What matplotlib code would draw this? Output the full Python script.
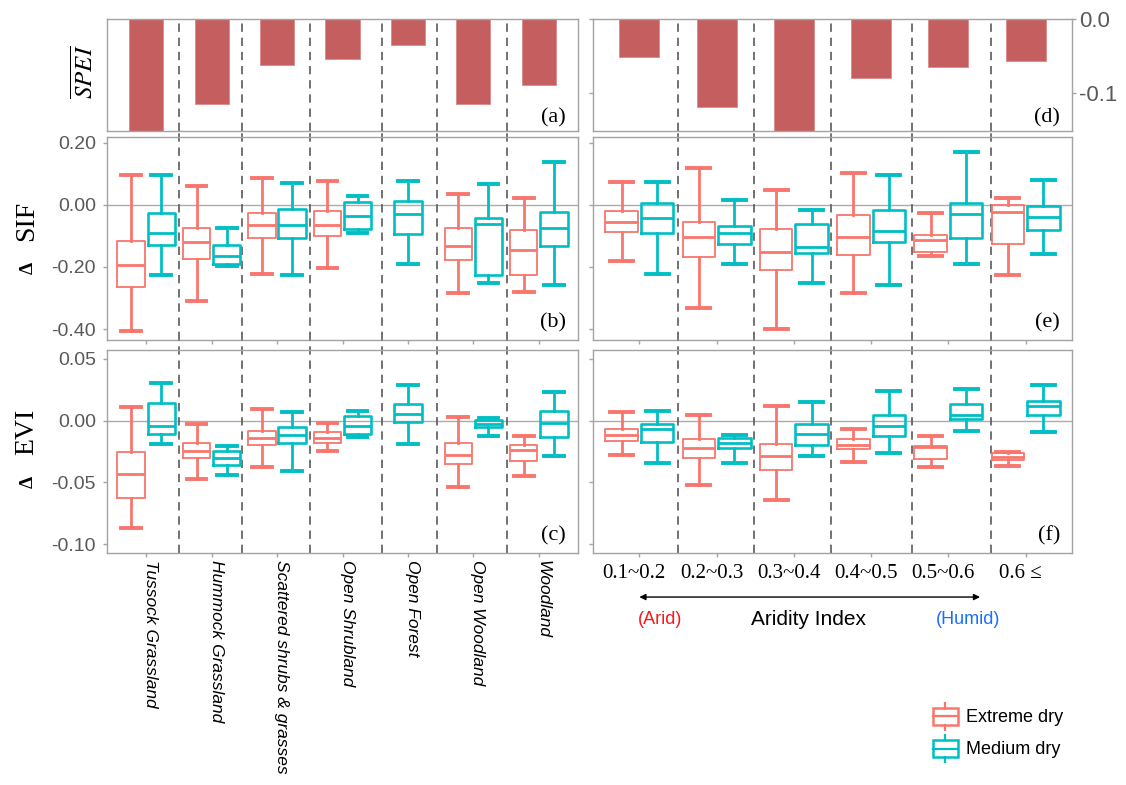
"""SPEI bars and dSIF / dEVI boxplots by vegetation type and aridity class."""

import matplotlib
matplotlib.use("Agg")
from matplotlib import pyplot as plt
from matplotlib import transforms
from matplotlib.legend_handler import HandlerBase
from matplotlib.lines import Line2D
from matplotlib.patches import Rectangle

plt.rcParams["font.family"] = ["Liberation Sans", "DejaVu Sans"]
plt.rcParams["axes.unicode_minus"] = False
plt.rcParams["mathtext.fontset"] = "stix"

# ---------------------------------------------------------------- data
veg_types = ["Tussock Grassland", "Hummock Grassland", "Scattered shrubs & grasses",
             "Open Shrubland", "Open Forest", "Open Woodland", "Woodland"]
ai_classes = ["0.1~0.2", "0.2~0.3", "0.3~0.4", "0.4~0.5", "0.5~0.6", "0.6 ≤"]

spei_veg = [-0.165, -0.116, -0.063, -0.054, -0.035, -0.116, -0.090]
spei_ai = [-0.051, -0.120, -0.165, -0.080, -0.065, -0.057]

# box stats: (whisker low, q1, median, q3, whisker high), None = no samples
sif_veg_extreme = [(-0.405, -0.266, -0.195, -0.117, 0.096),
                   (-0.311, -0.174, -0.120, -0.075, 0.059),
                   (-0.223, -0.106, -0.066, -0.026, 0.085),
                   (-0.203, -0.100, -0.065, -0.019, 0.076),
                   None,
                   (-0.284, -0.178, -0.133, -0.076, 0.035),
                   (-0.280, -0.225, -0.144, -0.082, 0.021)]
sif_veg_medium = [(-0.227, -0.130, -0.090, -0.027, 0.096),
                  (-0.198, -0.190, -0.166, -0.128, -0.074),
                  (-0.225, -0.108, -0.066, -0.012, 0.070),
                  (-0.092, -0.077, -0.036, 0.008, 0.029),
                  (-0.189, -0.093, -0.030, 0.011, 0.078),
                  (-0.252, -0.225, -0.061, -0.043, 0.067),
                  (-0.257, -0.133, -0.074, -0.022, 0.136)]
sif_ai_extreme = [(-0.182, -0.087, -0.056, -0.020, 0.073),
                  (-0.332, -0.169, -0.105, -0.055, 0.119),
                  (-0.401, -0.209, -0.152, -0.078, 0.048),
                  (-0.285, -0.161, -0.105, -0.033, 0.102),
                  (-0.166, -0.153, -0.112, -0.097, -0.027),
                  (-0.227, -0.127, -0.022, -0.001, 0.022)]
sif_ai_medium = [(-0.224, -0.092, -0.043, 0.007, 0.073),
                 (-0.190, -0.126, -0.091, -0.068, 0.015),
                 (-0.251, -0.156, -0.137, -0.061, -0.018),
                 (-0.257, -0.119, -0.083, -0.017, 0.096),
                 (-0.189, -0.107, -0.031, 0.006, 0.169),
                 (-0.157, -0.080, -0.040, -0.004, 0.080)]

evi_veg_extreme = [(-0.0870, -0.0625, -0.0435, -0.0258, 0.0111),
                   (-0.0473, -0.0299, -0.0245, -0.0182, -0.0024),
                   (-0.0378, -0.0201, -0.0141, -0.0087, 0.0095),
                   (-0.0250, -0.0182, -0.0141, -0.0092, -0.0019),
                   None,
                   (-0.0535, -0.0351, -0.0277, -0.0182, 0.0027),
                   (-0.0446, -0.0323, -0.0236, -0.0196, -0.0128)]
evi_veg_medium = [(-0.0190, -0.0109, -0.0046, 0.0139, 0.0307),
                  (-0.0440, -0.0359, -0.0302, -0.0250, -0.0209),
                  (-0.0410, -0.0182, -0.0114, -0.0052, 0.0068),
                  (-0.0133, -0.0106, -0.0046, 0.0033, 0.0076),
                  (-0.0188, -0.0011, 0.0049, 0.0130, 0.0285),
                  (-0.0122, -0.0054, -0.0027, 0.0003, 0.0022),
                  (-0.0283, -0.0133, -0.0019, 0.0076, 0.0234)]
evi_ai_extreme = [(-0.0278, -0.0162, -0.0116, -0.0070, 0.0073),
                  (-0.0522, -0.0305, -0.0219, -0.0151, 0.0046),
                  (-0.0638, -0.0400, -0.0286, -0.0192, 0.0114),
                  (-0.0332, -0.0227, -0.0197, -0.0151, -0.0070),
                  (-0.0378, -0.0311, -0.0216, -0.0205, -0.0124),
                  (-0.0365, -0.0319, -0.0292, -0.0265, -0.0251)]
evi_ai_medium = [(-0.0346, -0.0170, -0.0070, -0.0030, 0.0081),
                 (-0.0341, -0.0224, -0.0184, -0.0138, -0.0116),
                 (-0.0284, -0.0197, -0.0111, -0.0024, 0.0149),
                 (-0.0259, -0.0122, -0.0043, 0.0046, 0.0235),
                 (-0.0086, 0.0011, 0.0043, 0.0132, 0.0257),
                 (-0.0089, 0.0043, 0.0119, 0.0154, 0.0289)]

# separators were hand placed in the original, not exactly half-way
sep_veg = [1.5, 2.47, 3.5, 4.6, 5.45, 6.52]
sep_ai = [1.5, 2.49, 3.48, 4.53, 5.55]

# ---------------------------------------------------------------- style
W, H = 1126, 785
C_EXT = "#F8766D"
C_MED = "#00BFC4"
C_BAR = "#C55E5E"
C_FRAME = "#A3A3A3"
C_TICKLAB = "#595959"
BOX_W = 0.42
CAP_W = 0.30
DODGE = 0.23
SERIF = ["Liberation Serif", "DejaVu Serif"]


def px_axes(x0, y0, x1, y1):
    """axes from pixel box (top-left origin)"""
    return fig.add_axes([x0 / W, 1 - y1 / H, (x1 - x0) / W, (y1 - y0) / H])


def style_frame(ax):
    for sp in ax.spines.values():
        sp.set_color(C_FRAME)
        sp.set_linewidth(1.0)
    ax.tick_params(colors=C_FRAME, labelcolor=C_TICKLAB, length=3, width=1,
                   labelsize=14)
    ax.tick_params(axis="y", pad=5)


def draw_boxes(ax, ext, med):
    for stats, sign, color, blw in ((ext, -1, C_EXT, 1.3), (med, 1, C_MED, 1.9)):
        other = med if sign < 0 else ext
        items, pos = [], []
        for i, s in enumerate(stats):
            if s is None:
                continue
            lo, q1, md, q3, hi = s
            items.append(dict(whislo=lo, q1=q1, med=md, q3=q3, whishi=hi, fliers=[]))
            off = 0 if other[i] is None else sign * DODGE
            pos.append(i + 1 + off)
        ax.bxp(items, positions=pos, widths=BOX_W, capwidths=CAP_W, showfliers=False,
               manage_ticks=False,
               boxprops=dict(color=color, lw=blw),
               whiskerprops=dict(color=color, lw=2.0),
               capprops=dict(color=color, lw=2.8),
               medianprops=dict(color=color, lw=2.0, solid_capstyle="butt"))
    ax.axhline(0, color="#ABABAB", lw=1.0, zorder=0)


def separators(ax, xs, top=1.0):
    for x in xs:
        ax.axvline(x, ymin=0, ymax=top, color="#5A5A5A", lw=1.2,
                   ls=(0, (5, 3.5)), clip_on=False, zorder=0.5)


def panel_tag(ax, tag):
    ax.text(0.975, 0.035, tag, transform=ax.transAxes, ha="right", va="bottom",
            fontsize=16, family=SERIF)


fig = plt.figure(figsize=(W / 100, H / 100), dpi=100)

LX0, LX1 = 107, 578
RX0, RX1 = 593, 1072
ax_a = px_axes(LX0, 19, LX1, 131)
ax_d = px_axes(RX0, 19, RX1, 131)
ax_b = px_axes(LX0, 137, LX1, 340)
ax_e = px_axes(RX0, 137, RX1, 340)
ax_c = px_axes(LX0, 350, LX1, 553)
ax_f = px_axes(RX0, 350, RX1, 553)

for ax in (ax_a, ax_b, ax_c):
    ax.set_xlim(0.4, len(veg_types) + 0.6)
for ax in (ax_d, ax_e, ax_f):
    ax.set_xlim(0.4, len(ai_classes) + 0.6)

# ---- (a) / (d) mean SPEI bars
ax_a.bar(range(1, len(veg_types) + 1), spei_veg, width=0.52, color=C_BAR,
         edgecolor="#DA8A8A", lw=0.6, zorder=2)
ax_d.bar(range(1, len(ai_classes) + 1), spei_ai, width=0.52, color=C_BAR,
         edgecolor="#DA8A8A", lw=0.6, zorder=2)
for ax in (ax_a, ax_d):
    ax.set_ylim(-0.152, 0)
    style_frame(ax)
    ax.set_xticks([])
    ax.set_yticks([0, -0.1])
ax_a.tick_params(axis="y", left=False, labelleft=False)
ax_d.set_yticklabels(["0.0", "-0.1"])
ax_d.tick_params(axis="y", left=True, right=True, labelleft=False, labelright=True,
                 labelsize=16, pad=2)

# ---- (b) / (e) delta SIF
draw_boxes(ax_b, sif_veg_extreme, sif_veg_medium)
draw_boxes(ax_e, sif_ai_extreme, sif_ai_medium)
sif_ticks = [0.2, 0.0, -0.2, -0.4]
for ax in (ax_b, ax_e):
    ax.set_ylim(-0.435, 0.218)
    style_frame(ax)
    ax.set_yticks(sif_ticks)
ax_b.set_yticklabels([f"{t:.2f}" for t in sif_ticks])
ax_e.tick_params(axis="y", labelleft=False)
ax_b.set_xticks(range(1, len(veg_types) + 1))
ax_e.set_xticks(range(1, len(ai_classes) + 1))
ax_b.tick_params(axis="x", labelbottom=False)
ax_e.tick_params(axis="x", labelbottom=False)

# ---- (c) / (f) delta EVI
draw_boxes(ax_c, evi_veg_extreme, evi_veg_medium)
draw_boxes(ax_f, evi_ai_extreme, evi_ai_medium)
evi_ticks = [0.05, 0.0, -0.05, -0.10]
for ax in (ax_c, ax_f):
    ax.set_ylim(-0.107, 0.057)
    style_frame(ax)
    ax.set_yticks(evi_ticks)
ax_c.set_yticklabels([f"{t:.2f}" for t in evi_ticks])
ax_f.tick_params(axis="y", labelleft=False)

ax_c.set_xticks(range(1, len(veg_types) + 1))
ax_c.set_xticklabels(veg_types, rotation=-90, rotation_mode="anchor", ha="left",
                     va="baseline", fontstyle="italic", color="black", fontsize=12.5)
ax_c.tick_params(axis="x", pad=2)
ax_f.set_xticks(range(1, len(ai_classes) + 1))
ax_f.set_xticklabels(ai_classes, family=SERIF, color="black", fontsize=15)
ax_f.tick_params(axis="x", pad=5)
shift = transforms.ScaledTranslation(-5 / 100, 0, fig.dpi_scale_trans)
for lab in ax_f.get_xticklabels():
    lab.set_transform(lab.get_transform() + shift)

# dashed group separators, running through the gaps between panels
separators(ax_a, sep_veg)
separators(ax_b, sep_veg, top=1.035)
separators(ax_c, sep_veg, top=1.05)
separators(ax_d, sep_ai)
separators(ax_e, sep_ai, top=1.035)
separators(ax_f, sep_ai, top=1.05)

for ax, tag in zip((ax_a, ax_b, ax_c, ax_d, ax_e, ax_f),
                   ("(a)", "(b)", "(c)", "(d)", "(e)", "(f)")):
    panel_tag(ax, tag)

# aridity axis annotation under (f)
xf = ax_f.get_xaxis_transform()
ax_f.annotate("", xy=(5.41, -0.217), xytext=(1.0, -0.217), xycoords=xf, textcoords=xf,
              arrowprops=dict(arrowstyle="<|-|>", color="black", lw=1.0,
                              mutation_scale=9, shrinkA=0, shrinkB=0))
ax_f.text(1.27, -0.33, "(Arid)", transform=xf, ha="center", va="center",
          color="#F51A1A", fontsize=13)
ax_f.text(3.19, -0.33, "Aridity Index", transform=xf, ha="center", va="center",
          color="black", fontsize=15)
ax_f.text(5.25, -0.33, "(Humid)", transform=xf, ha="center", va="center",
          color="#1A6EFF", fontsize=13)

# y labels
fig.text(84 / W, 1 - 72 / H, r"$\overline{SPEI}$", rotation=90, ha="center",
         va="center", fontsize=18)
fig.text(27 / W, 1 - 221 / H, "SIF", rotation=90, ha="center", va="center",
         fontsize=20, family=SERIF)
fig.text(28 / W, 1 - 268 / H, "Δ", rotation=90, ha="center", va="center",
         fontsize=14, weight="bold", family=SERIF)
fig.text(27 / W, 1 - 432 / H, "EVI", rotation=90, ha="center", va="center",
         fontsize=20, family=SERIF)
fig.text(28 / W, 1 - 482 / H, "Δ", rotation=90, ha="center", va="center",
         fontsize=14, weight="bold", family=SERIF)


# legend with little box glyphs
class BoxKey(HandlerBase):
    def create_artists(self, legend, orig_handle, xdescent, ydescent, width,
                       height, fontsize, trans):
        c = orig_handle.get_color()
        cx = width / 2 - xdescent
        bw, bh = width * 0.95, height * 0.62
        y0 = -ydescent + (height - bh) / 2
        art = [Rectangle((cx - bw / 2, y0), bw, bh, fill=False, ec=c, lw=1.8,
                         transform=trans),
               Line2D([cx - bw / 2, cx + bw / 2], [y0 + bh / 2] * 2, color=c, lw=1.6,
                      transform=trans),
               Line2D([cx, cx], [y0 + bh, -ydescent + height], color=c, lw=1.6,
                      transform=trans),
               Line2D([cx, cx], [y0, -ydescent], color=c, lw=1.6,
                      transform=trans)]
        return art


handles = [Line2D([], [], color=C_EXT), Line2D([], [], color=C_MED)]
fig.legend(handles, ["Extreme dry", "Medium dry"], loc="upper left",
           bbox_to_anchor=(932 / W, 1 - 703 / H), frameon=False, fontsize=13,
           handler_map={Line2D: BoxKey()}, handlelength=1.45, handleheight=1.9,
           handletextpad=0.45, labelspacing=0.3, borderpad=0, borderaxespad=0)

fig.savefig("out.png", dpi=100)
